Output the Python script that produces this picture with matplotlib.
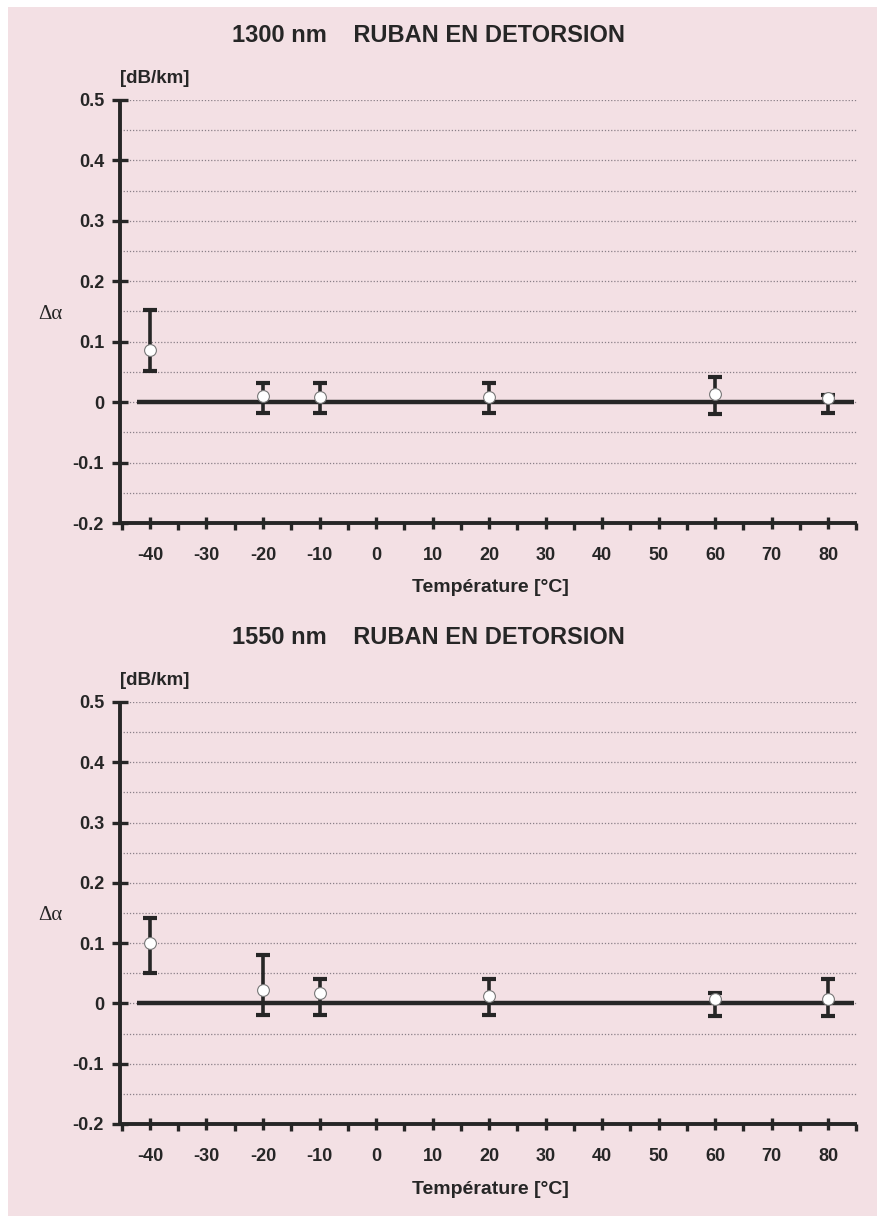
import matplotlib
matplotlib.use("Agg")
import matplotlib.pyplot as plt
from matplotlib.patches import Rectangle
from matplotlib.ticker import MultipleLocator

# temperatures of the measurement points (°C)
temps = [-40, -20, -10, 20, 60, 80]

# 1300 nm: mean, lower and upper bound of delta alpha (dB/km)
mean_1300 = [0.086, 0.010, 0.008, 0.008, 0.013, 0.007]
low_1300 = [0.051, -0.018, -0.018, -0.018, -0.020, -0.018]
high_1300 = [0.153, 0.031, 0.031, 0.031, 0.041, 0.012]

# 1550 nm
mean_1550 = [0.101, 0.023, 0.018, 0.012, 0.007, 0.007]
low_1550 = [0.050, -0.020, -0.020, -0.020, -0.021, -0.021]
high_1550 = [0.141, 0.080, 0.040, 0.040, 0.018, 0.040]

titles = ["1300 nm    RUBAN EN DETORSION", "1550 nm    RUBAN EN DETORSION"]
x_ticks = [-40, -30, -20, -10, 0, 10, 20, 30, 40, 50, 60, 70, 80]
y_ticks = [-0.2, -0.1, 0, 0.1, 0.2, 0.3, 0.4, 0.5]
y_tick_labels = ["-0.2", "-0.1", "0", "0.1", "0.2", "0.3", "0.4", "0.5"]

BG = "#f3e0e4"
INK = "#262626"
FONT = "Liberation Sans"

W, H = 877, 1216
fig = plt.figure(figsize=(W / 100, H / 100), dpi=100, facecolor="white")
# scanned page: small white margin at top/left
fig.patches.append(Rectangle((8 / W, 0), 1, 1 - 7 / H, transform=fig.transFigure,
                             facecolor=BG, edgecolor="none", zorder=-5))

ax_left, ax_width = 120 / W, 737 / W
panels = [
    # (axes bottom px, axes top px, title y px, data)
    (523, 100, 35, mean_1300, low_1300, high_1300),
    (1124, 702, 637, mean_1550, low_1550, high_1550),
]

for i, (bot_px, top_px, title_px, mean, low, high) in enumerate(panels):
    ax = fig.add_axes([ax_left, 1 - bot_px / H, ax_width, (bot_px - top_px) / H])
    ax.set_facecolor("none")
    ax.set_xlim(-45.3, 85.1)
    ax.set_ylim(-0.2, 0.5)

    for s in ("top", "right"):
        ax.spines[s].set_visible(False)
    for s in ("left", "bottom"):
        ax.spines[s].set_linewidth(2.8)
        ax.spines[s].set_color(INK)
        ax.spines[s].set_capstyle("butt")

    # dotted grid every 0.05
    for k in range(-3, 11):
        ax.axhline(k * 0.05, color="#8a8088", lw=0.9, ls=(0, (1, 1.5)), zorder=1)

    # zero reference line
    ax.hlines(0, -42.3, 84.6, color=INK, lw=3.2, zorder=2)

    yerr = [[m - l for m, l in zip(mean, low)], [h - m for m, h in zip(mean, high)]]
    ax.errorbar(temps, mean, yerr=yerr, fmt="none", ecolor=INK, elinewidth=2.6,
                capsize=5, capthick=3, zorder=3)
    ax.plot(temps, mean, ls="none", marker="o", ms=8.5, mfc="white", mec="#777777",
            mew=0.8, zorder=4)

    ax.xaxis.set_major_locator(MultipleLocator(10))
    ax.xaxis.set_minor_locator(MultipleLocator(5))
    ax.set_xticks(x_ticks)
    ax.set_xticklabels([str(t) for t in x_ticks])
    ax.set_yticks(y_ticks)
    ax.set_yticklabels(y_tick_labels)
    ax.tick_params(axis="x", which="major", direction="inout", length=9, width=2.4,
                   color=INK, pad=13, labelsize=13)
    ax.tick_params(axis="x", which="minor", direction="out", length=5, width=2.4, color=INK)
    ax.tick_params(axis="y", which="major", direction="inout", length=11, width=2.4,
                   color=INK, pad=6, labelsize=13)
    for lab in ax.get_xticklabels() + ax.get_yticklabels():
        lab.set_fontfamily(FONT)
        lab.set_fontweight("bold")
        lab.set_color(INK)

    fig.text(428 / W, 1 - title_px / H, titles[i], ha="center", va="center",
             fontsize=17, fontweight="bold", family=FONT, color=INK)
    ax.text(0.0, 1.03, "[dB/km]", transform=ax.transAxes, ha="left", va="bottom",
            fontsize=13.5, fontweight="bold", family=FONT, color=INK)
    ax.text(-0.095, 0.494, "\u0394\u03b1", transform=ax.transAxes, ha="center", va="center",
            fontsize=15, family="Liberation Serif", color=INK)
    fig.text(490 / W, 1 - (bot_px + 65) / H, "Température [°C]", ha="center", va="center",
             fontsize=14, fontweight="bold", family=FONT, color=INK)

fig.savefig("out.png", dpi=100, facecolor=fig.get_facecolor())
